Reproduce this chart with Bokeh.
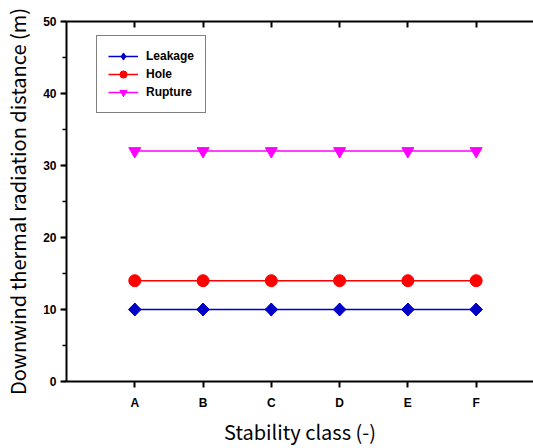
import math
from bokeh.plotting import figure
from bokeh.models import (Range1d, FixedTicker, SingleIntervalTicker, LinearAxis,
                          Legend, LegendItem)
from bokeh.embed import file_html
from bokeh.resources import INLINE

categories = ["A", "B", "C", "D", "E", "F"]
leakage = [10, 10, 10, 10, 10, 10]
hole = [14, 14, 14, 14, 14, 14]
rupture = [32, 32, 32, 32, 32, 32]

xs = list(range(1, len(categories) + 1))

p = figure(width=533, height=448, output_backend="svg", toolbar_location=None,
           x_range=Range1d(0, 6.84), y_range=Range1d(0, 50),
           x_axis_location=None, y_axis_location=None)
p.min_border_left = 66
p.min_border_right = 0
p.min_border_top = 21
p.min_border_bottom = 67
p.outline_line_color = None
p.grid.visible = False
p.background_fill_color = "white"
p.border_fill_color = "white"

tick_font = "Liberation Sans"
label_font = "Noto Sans CJK KR"


def style_axis(ax):
    ax.axis_line_color = "black"
    ax.axis_line_width = 2
    ax.major_tick_line_color = "black"
    ax.major_tick_line_width = 2
    ax.minor_tick_line_color = "black"
    ax.minor_tick_line_width = 1.5
    ax.major_label_text_color = "black"
    ax.major_label_text_font = tick_font
    ax.major_label_text_font_style = "bold"
    ax.major_label_text_font_size = "12px"
    ax.axis_label_text_color = "black"
    ax.axis_label_text_font = label_font
    ax.axis_label_text_font_style = "normal"
    ax.axis_label_text_font_size = "20px"


yaxis = LinearAxis(ticker=SingleIntervalTicker(interval=10, num_minor_ticks=2))
style_axis(yaxis)
yaxis.axis_label = "Downwind thermal radiation distance (m)"
yaxis.axis_label_standoff = 8
yaxis.major_label_standoff = 4
yaxis.major_tick_in = 0
yaxis.major_tick_out = 6
yaxis.minor_tick_in = 0
yaxis.minor_tick_out = 4
p.add_layout(yaxis, "left")

xaxis = LinearAxis(ticker=FixedTicker(ticks=xs))
style_axis(xaxis)
xaxis.major_label_overrides = {x: c for x, c in zip(xs, categories)}
xaxis.axis_label = "Stability class (-)"
xaxis.axis_label_standoff = 4
xaxis.major_label_standoff = 8
xaxis.major_tick_in = 0
xaxis.major_tick_out = 6
xaxis.minor_tick_line_color = None
p.add_layout(xaxis, "below")

taxis = LinearAxis(ticker=FixedTicker(ticks=xs))
style_axis(taxis)
taxis.major_label_text_font_size = "0px"
taxis.major_label_text_color = None
taxis.major_tick_in = 6
taxis.major_tick_out = 0
taxis.major_label_standoff = 0
taxis.minor_tick_line_color = None
p.add_layout(taxis, "above")

blue = "#0000C8"
red = "#FF0000"
magenta = "#FF00FF"

l1 = p.line(xs, leakage, line_color=blue, line_width=1.5)
d1 = p.scatter(xs, leakage, marker="diamond", size=13,
               fill_color=blue, line_color=blue)
s1 = p.scatter(xs, leakage, marker="square", angle=math.pi / 4, size=9,
               fill_color=blue, line_color=blue)
l2 = p.line(xs, hole, line_color=red, line_width=1.5)
s2 = p.scatter(xs, hole, marker="circle", size=12, fill_color=red, line_color=red)
l3 = p.line(xs, rupture, line_color=magenta, line_width=1.5)
s3 = p.scatter(xs, rupture, marker="inverted_triangle", size=12,
               fill_color=magenta, line_color=magenta)

legend = Legend(items=[
    LegendItem(label="Leakage", renderers=[l1, d1]),
    LegendItem(label="Hole", renderers=[l2, s2]),
    LegendItem(label="Rupture", renderers=[l3, s3]),
], location=(30, 268))
legend.border_line_color = "black"
legend.border_line_width = 1.5
legend.padding = 11
legend.spacing = 0
legend.margin = 0
legend.glyph_width = 30
legend.glyph_height = 18
legend.label_height = 18
legend.label_standoff = 8
legend.label_text_font = tick_font
legend.label_text_font_style = "bold"
legend.label_text_font_size = "12px"
legend.label_text_color = "black"
legend.background_fill_alpha = 1
p.add_layout(legend, "center")

open("out.html", "w").write(file_html(p, INLINE))
